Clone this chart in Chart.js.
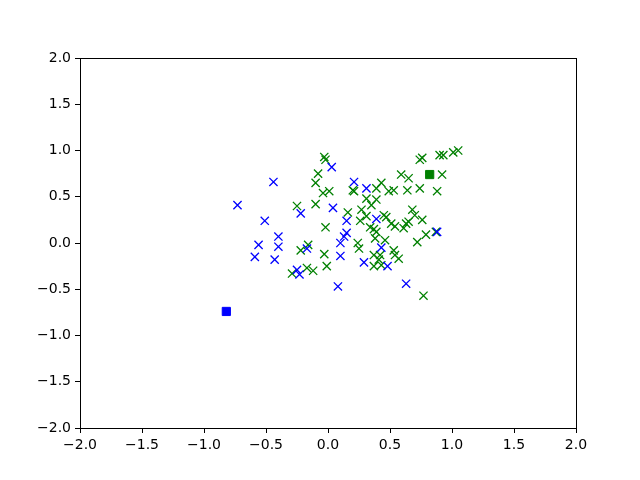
<!DOCTYPE html>
<html>
<head>
<meta charset="utf-8">
<script src="https://cdn.jsdelivr.net/npm/chart.js@4/dist/chart.umd.min.js"></script>
<style>
    html, body { margin: 0; padding: 0; background: #fff; }
    #grafico { display: block; }
</style>
</head>
<body>
<canvas id="grafico" width="640" height="480"></canvas>
<script>
// pontos do grupo azul
const azulX = [-0.73, -0.44, -0.51, -0.40, -0.40, -0.56, -0.59, -0.43, 0.03, -0.22, 0.04, -0.17,
    -0.25, -0.23, 0.08, 0.21, 0.31, 0.15, 0.39, 0.15, 0.13, 0.10, 0.10, 0.29, 0.88, 0.43, 0.48, 0.63];
const azulY = [0.41, 0.66, 0.24, 0.07, -0.04, -0.02, -0.15, -0.18, 0.82, 0.32, 0.38, -0.06,
    -0.29, -0.34, -0.47, 0.66, 0.59, 0.24, 0.26, 0.11, 0.07, 0.00, -0.14, -0.21, 0.12, -0.05, -0.25, -0.44];

// pontos do grupo verde
const verdeX = [-0.03, -0.02, -0.08, -0.10, -0.04, 0.01, -0.25, -0.10, -0.02, -0.22, -0.16, -0.03,
    -0.01, -0.29, -0.17, -0.12, 0.20, 0.21, 0.39, 0.31, 0.39, 0.35, 0.27, 0.16, 0.26, 0.31,
    0.34, 0.24, 0.25, 0.74, 0.76, 0.90, 0.93, 1.01, 1.05, 0.92, 0.59, 0.65, 0.88, 0.74,
    0.64, 0.53, 0.49, 0.43, 0.45, 0.47, 0.68, 0.70, 0.76, 0.54, 0.51, 0.65, 0.63, 0.61,
    0.87, 0.79, 0.72, 0.77, 0.46, 0.53, 0.57, 0.37, 0.39, 0.38, 0.37, 0.41, 0.37, 0.43,
    0.54, 0.42];
const verdeY = [0.93, 0.90, 0.75, 0.65, 0.54, 0.56, 0.40, 0.42, 0.17, -0.08, -0.02, -0.12,
    -0.25, -0.33, -0.27, -0.30, 0.57, 0.56, 0.59, 0.48, 0.47, 0.41, 0.36, 0.33, 0.24, 0.29,
    0.17, 0.00, -0.06, 0.90, 0.92, 0.95, 0.95, 0.98, 1.00, 0.74, 0.74, 0.70, 0.56, 0.59,
    0.57, 0.57, 0.56, 0.65, 0.30, 0.28, 0.36, 0.30, 0.25, 0.18, 0.21, 0.23, 0.21, 0.16,
    0.12, 0.09, 0.01, -0.57, 0.03, -0.08, -0.17, 0.15, 0.12, 0.05, -0.13, -0.18, -0.25, -0.24,
    -0.13, -0.13];

// centros
const centroAzul = [-0.82, -0.74];
const centroVerde = [0.82, 0.74];

const ticksEixo = [-2.0, -1.5, -1.0, -0.5, 0.0, 0.5, 1.0, 1.5, 2.0];

function montarPontos(xs, ys) {
    let pontos = [];
    xs.forEach((x, i) => {
        pontos.push({x: x, y: ys[i]});
    });
    return pontos;
}

const moldura = {
    id: 'moldura',
    afterDraw(chart) {
        let ctx = chart.ctx;
        let a = chart.chartArea;
        ctx.save();
        ctx.strokeStyle = '#000';
        ctx.lineWidth = 1;
        ctx.strokeRect(Math.round(a.left) + 0.5, Math.round(a.top) + 0.5,
            Math.round(a.right - a.left), Math.round(a.bottom - a.top));
        ctx.restore();
    }
};

function formatarTick(valor) {
    return valor.toFixed(1).replace('-', '\u2212');
}

function eixo(posicao, tamanho) {
    return {
        type: 'linear',
        position: posicao,
        min: -2,
        max: 2,
        afterBuildTicks: (axis) => {
            axis.ticks = ticksEixo.map((v) => ({value: v}));
        },
        afterFit: (axis) => {
            if (posicao === 'left') {
                axis.width = tamanho;
            } else {
                axis.height = tamanho;
            }
        },
        grid: {
            display: true,
            drawOnChartArea: false,
            drawTicks: true,
            tickLength: 5,
            color: '#000',
            tickColor: '#000'
        },
        border: {display: true, color: '#000', width: 1},
        ticks: {
            color: '#000',
            padding: 4,
            maxRotation: 0,
            autoSkip: false,
            font: {family: 'DejaVu Sans', size: 14},
            callback: formatarTick
        }
    };
}

new Chart(document.getElementById('grafico'), {
    type: 'scatter',
    data: {
        datasets: [
            {
                label: 'centro azul',
                data: [{x: centroAzul[0], y: centroAzul[1]}],
                pointStyle: 'rect',
                pointRadius: 5.8,
                backgroundColor: '#0000ff',
                borderColor: '#0000ff',
                borderWidth: 1
            },
            {
                label: 'centro verde',
                data: [{x: centroVerde[0], y: centroVerde[1]}],
                pointStyle: 'rect',
                pointRadius: 5.8,
                backgroundColor: '#008000',
                borderColor: '#008000',
                borderWidth: 1
            },
            {
                label: 'azul',
                data: montarPontos(azulX, azulY),
                pointStyle: 'crossRot',
                pointRadius: 5.8,
                borderColor: '#0000ff',
                backgroundColor: '#0000ff',
                borderWidth: 1.3
            },
            {
                label: 'verde',
                data: montarPontos(verdeX, verdeY),
                pointStyle: 'crossRot',
                pointRadius: 5.8,
                borderColor: '#008000',
                backgroundColor: '#008000',
                borderWidth: 1.3
            }
        ]
    },
    options: {
        responsive: false,
        animation: false,
        events: [],
        layout: {padding: {left: 0, right: 64, top: 58, bottom: 0}},
        plugins: {
            legend: {display: false},
            tooltip: {enabled: false}
        },
        scales: {
            x: eixo('bottom', 52),
            y: eixo('left', 80)
        }
    },
    plugins: [moldura]
});
</script>
</body>
</html>
